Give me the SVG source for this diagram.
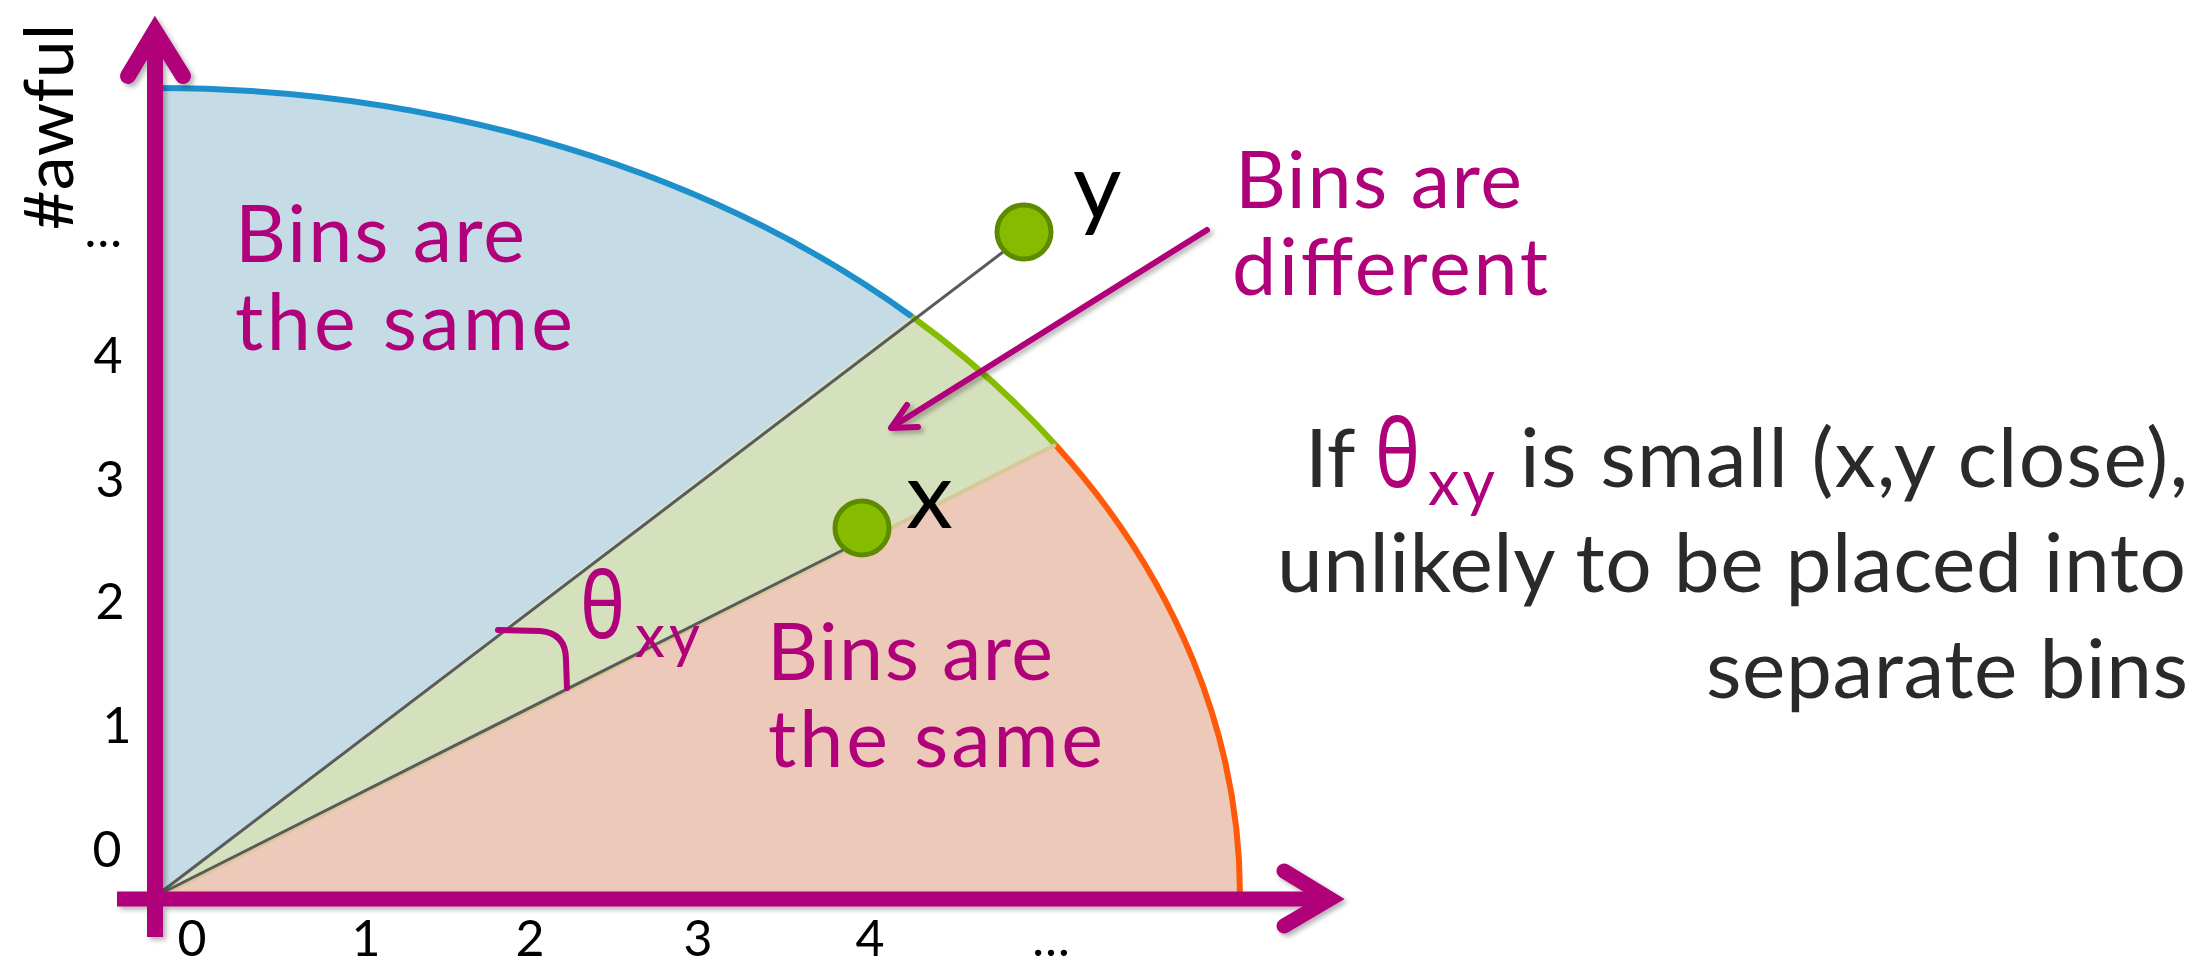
<svg xmlns="http://www.w3.org/2000/svg" width="2211" height="965" viewBox="0 0 2211 965">
<defs>
<style>
.lbl{font-family:Lato,'Open Sans','Liberation Sans',sans-serif;}
.mag{fill:#B0007A;font-size:79px;}
.num{fill:#000;font-size:50px;text-anchor:middle;}
.txt{fill:#2A2A2A;font-size:82px;}
.theta{font-family:'Noto Sans','DejaVu Sans',sans-serif;fill:#B0007A;}
.axis{stroke:#B0007A;fill:none;}
.ray{stroke:#5A5A5A;stroke-width:3;fill:none;}
.dot{fill:#86BC00;stroke:#5E8A00;stroke-width:5;}
</style>
<filter id="sh" x="-10%" y="-10%" width="120%" height="120%">
<feDropShadow dx="3" dy="3" stdDeviation="2.5" flood-color="#000" flood-opacity="0.3"/>
</filter>
</defs>
<rect width="2211" height="965" fill="#fff"/>

<g id="sector-blue">
<path d="M156 895 L156 88 A1084 807 0 0 1 912.1 316.7 Z" fill="#C5DBE5"/>
<path d="M156 88 A1084 807 0 0 1 912.1 316.7" fill="none" stroke="#1D8FCB" stroke-width="6"/>
</g>
<g id="sector-green">
<path d="M156 895 L912.1 316.7 A1084 807 0 0 1 1055.6 444.9 Z" fill="#D5E0BD"/>
<path d="M912.1 316.7 A1084 807 0 0 1 1055.6 444.9" fill="none" stroke="#86BC00" stroke-width="6"/>
</g>
<g id="sector-orange">
<path d="M156 895 L1055.6 444.9 A1084 807 0 0 1 1240 895 Z" fill="#EDC9B9"/>
<path d="M1055.6 444.9 A1084 807 0 0 1 1240 895" fill="none" stroke="#FF5A0A" stroke-width="6"/>
<line x1="158" y1="897" x2="1055.6" y2="444.9" stroke="#D6C898" stroke-width="4"/>
</g>

<g id="connectors">
<line class="ray" x1="156" y1="896" x2="1003" y2="252"/>
<line class="ray" x1="156" y1="896" x2="849" y2="547"/>
<path d="M498 630 L540 631 Q566 633 566 660 L567 688" fill="none" stroke="#B0007A" stroke-width="6" stroke-linecap="round"/>
<g filter="url(#sh)">
<line x1="1207" y1="230" x2="892" y2="427" stroke="#B0007A" stroke-width="6" stroke-linecap="round"/>
<polyline points="907,405 891,428 918,427" fill="none" stroke="#B0007A" stroke-width="6" stroke-linecap="round" stroke-linejoin="round"/>
</g>
</g>

<g id="axes" filter="url(#sh)">
<line class="axis" x1="117" y1="899" x2="1332" y2="899" stroke-width="15"/>
<polyline class="axis" points="1284,871 1330,899 1284,926" stroke-width="15" stroke-linecap="round" stroke-linejoin="miter" stroke-miterlimit="10"/>
<line class="axis" x1="155" y1="937" x2="155" y2="32" stroke-width="16"/>
<polyline class="axis" points="128,76 155,31 183,76" stroke-width="16" stroke-linecap="round" stroke-linejoin="miter" stroke-miterlimit="10"/>
</g>

<g id="node-y">
<circle class="dot" cx="1024" cy="232" r="27"/>
<text class="lbl" x="1073" y="219" font-size="94" fill="#000">y</text>
</g>
<g id="node-x">
<circle class="dot" cx="862" cy="528" r="27"/>
<text class="lbl" x="906" y="528" font-size="94" fill="#000">x</text>
</g>

<g id="label-top">
<text class="lbl mag" x="235" y="262" textLength="290">Bins are</text>
<text class="lbl mag" x="235" y="350" textLength="338">the same</text>
</g>
<g id="label-bottom">
<text class="lbl mag" x="767" y="680" textLength="286">Bins are</text>
<text class="lbl mag" x="768" y="767" textLength="335">the same</text>
</g>
<g id="label-different">
<text class="lbl mag" x="1235" y="208" textLength="287">Bins are</text>
<text class="lbl mag" x="1232" y="295" textLength="316">different</text>
</g>
<g id="label-theta">
<text class="theta" x="580" y="638" font-size="92" textLength="45" lengthAdjust="spacingAndGlyphs">θ</text>
<text class="lbl" x="635" y="657" font-size="60" fill="#B0007A" textLength="65">xy</text>
</g>

<g id="y-ticks">
<text class="lbl" x="122" y="247" font-size="50" fill="#000" text-anchor="end">…</text>
<text class="lbl num" x="108" y="373">4</text>
<text class="lbl num" x="110" y="497">3</text>
<text class="lbl num" x="110" y="619">2</text>
<text class="lbl num" x="117" y="743">1</text>
<text class="lbl num" x="107" y="867">0</text>
<text class="lbl" transform="translate(73,230) rotate(-90)" font-size="68" fill="#000" textLength="206">#awful</text>
</g>
<g id="x-ticks">
<text class="lbl num" x="192" y="956">0</text>
<text class="lbl num" x="366" y="956">1</text>
<text class="lbl num" x="530" y="956">2</text>
<text class="lbl num" x="698" y="956">3</text>
<text class="lbl num" x="870" y="956">4</text>
<text class="lbl num" x="1051" y="956">…</text>
</g>

<g id="caption">
<text class="lbl txt" x="1305" y="487">If</text>
<text class="theta" x="1375" y="487" font-size="95" textLength="45" lengthAdjust="spacingAndGlyphs">θ</text>
<text class="lbl" x="1428" y="505" font-size="63" fill="#B0007A" textLength="67">xy</text>
<text class="lbl txt" x="1520" y="487" textLength="668">is small (x,y close),</text>
<text class="lbl txt" x="1277" y="592" textLength="909">unlikely to be placed into</text>
<text class="lbl txt" x="1706" y="698" textLength="482">separate bins</text>
</g>
</svg>
